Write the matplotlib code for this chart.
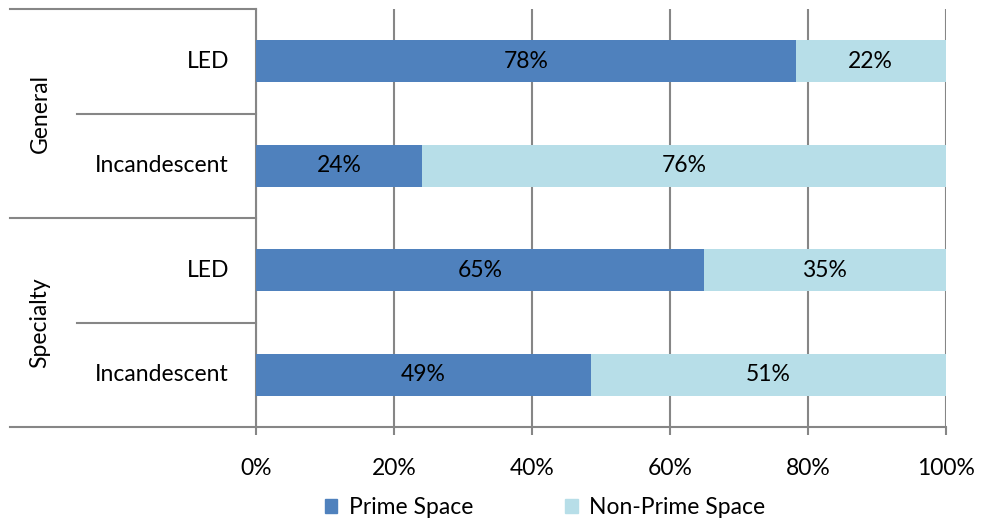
import matplotlib
matplotlib.use("Agg")
import matplotlib.pyplot as plt
from matplotlib.patches import Patch
from matplotlib.transforms import blended_transform_factory

plt.rcParams['font.family'] = ['Lato', 'DejaVu Sans']

# data (top to bottom)
groups = ['General', 'Specialty']
types = ['LED', 'Incandescent', 'LED', 'Incandescent']
prime = [78.2, 24.1, 64.9, 48.6]
non_prime = [21.8, 75.9, 35.1, 51.4]
prime_labels = ['78%', '24%', '65%', '49%']
non_prime_labels = ['22%', '76%', '35%', '51%']
x_ticks = [0, 20, 40, 60, 80, 100]

c_prime = '#4F81BD'
c_non = '#B7DEE8'
grid_c = '#868686'
fs = 16.5

fig = plt.figure(figsize=(9.82, 5.21), dpi=100)
ax = fig.add_axes([256 / 982, 1 - 427 / 521, 690 / 982, 418 / 521])

ypos = [3, 2, 1, 0]
ax.barh(ypos, prime, height=0.4, color=c_prime, zorder=3)
ax.barh(ypos, non_prime, left=prime, height=0.4, color=c_non, zorder=3)

for y, p, n, pl, nl in zip(ypos, prime, non_prime, prime_labels, non_prime_labels):
    ax.text(p / 2, y, pl, ha='center', va='center', fontsize=fs, zorder=4)
    ax.text(p + n / 2, y, nl, ha='center', va='center', fontsize=fs, zorder=4)

ax.set_xlim(0, 100)
ax.set_ylim(-0.5, 3.5)
ax.set_xticks(x_ticks)
ax.set_xticklabels([f'{t}%' for t in x_ticks], fontsize=fs)
ax.set_yticks([])
ax.xaxis.grid(True, color=grid_c, linewidth=1.5, zorder=0)
ax.tick_params(axis='x', length=6, width=1.5, color=grid_c, pad=16)
for s in ['top', 'right', 'left']:
    ax.spines[s].set_visible(False)
ax.spines['bottom'].set_color(grid_c)
ax.spines['bottom'].set_linewidth(1.5)

# category axis: labels and separators on the left
tr = blended_transform_factory(fig.transFigure, ax.transData)
x0 = 10 / 982
x1 = 77 / 982
xa = 256 / 982
for y in [3.5, 1.5, -0.5]:
    ax.plot([x0, xa], [y, y], color=grid_c, lw=1.5, transform=tr, clip_on=False)
for y in [2.5, 0.5]:
    ax.plot([x1, xa], [y, y], color=grid_c, lw=1.5, transform=tr, clip_on=False)
ax.plot([xa, xa], [-0.5, 3.5], color=grid_c, lw=1.5, transform=tr, clip_on=False)

for y, t in zip(ypos, types):
    ax.text(229 / 982, y, t, ha='right', va='center', fontsize=fs, transform=tr)
for y, g in zip([2.5, 0.5], groups):
    ax.text(40 / 982, y, g, ha='center', va='center', rotation=90, fontsize=fs, transform=tr)

handles = [Patch(color=c_prime, label='Prime Space'), Patch(color=c_non, label='Non-Prime Space')]
fig.legend(handles=handles, loc='center', bbox_to_anchor=(0.555, 13 / 521), ncol=2,
           frameon=False, fontsize=fs, handlelength=0.55, handleheight=0.55,
           handletextpad=0.5, columnspacing=4, borderpad=0)

fig.savefig('out.png', dpi=100)
